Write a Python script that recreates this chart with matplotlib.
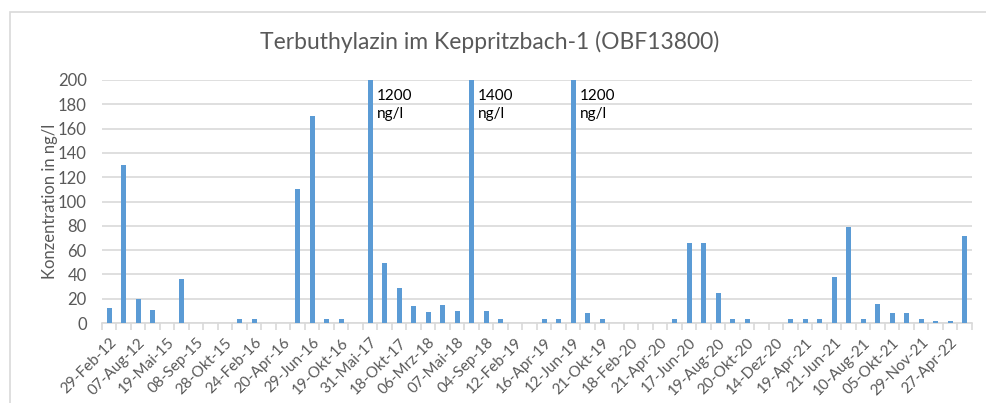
import numpy as np
import matplotlib
matplotlib.use("Agg")
import matplotlib.pyplot as plt
from matplotlib.patches import Rectangle

plt.rcParams['font.family'] = ['Lato', 'DejaVu Sans']

# one value per sampling date (60 samples), labels shown for every second one
values = [12, 130, 20, 11, 0, 36, 0, 0, 0, 3,
          3, 0, 0, 110, 170, 3, 3, 0, 1200, 49,
          29, 14, 9, 15, 10, 1400, 10, 3, 0, 0,
          3, 3, 1200, 8, 3, 0, 0, 0, 0, 3,
          66, 66, 25, 3, 3, 0, 0, 3, 3, 3,
          38, 79, 3, 16, 8, 8, 3, 2, 2, 72]

labels = ["29-Feb-12", "07-Aug-12", "19-Mai-15", "08-Sep-15", "28-Okt-15",
          "24-Feb-16", "20-Apr-16", "29-Jun-16", "19-Okt-16", "31-Mai-17",
          "18-Okt-17", "06-Mrz-18", "07-Mai-18", "04-Sep-18", "12-Feb-19",
          "16-Apr-19", "12-Jun-19", "21-Okt-19", "18-Feb-20", "21-Apr-20",
          "17-Jun-20", "19-Aug-20", "20-Okt-20", "14-Dez-20", "19-Apr-21",
          "21-Jun-21", "10-Aug-21", "05-Okt-21", "29-Nov-21", "27-Apr-22"]

ymax = 200
grey = "#595959"

fig = plt.figure(figsize=(9.87, 4.03), dpi=100)
ax = fig.add_axes([102/987, 1 - 323/403, 870/987, 243/403])

x = np.arange(len(values))
ax.bar(x, values, width=0.32, color="#5b9bd5", zorder=3)

# annotate the off-scale peaks
for i, v in enumerate(values):
    if v > ymax:
        ax.text(i + 0.45, ymax - 7, f"{v}\nng/l", ha="left", va="top",
                fontsize=11, color="black", linespacing=1.4, zorder=4)

ax.set_xlim(-0.5, len(values) - 0.5)
ax.set_ylim(0, ymax)
ax.set_yticks(np.arange(0, ymax + 1, 20))
ax.yaxis.grid(True, color="#d9d9d9", linewidth=1.2, zorder=0)
ax.set_axisbelow(True)

ax.set_xticks(x[::2])
ax.set_xticklabels(labels, rotation=45, ha="right", rotation_mode="anchor")
ax.set_xticks(np.arange(-0.5, len(values), 1), minor=True)
ax.tick_params(axis="x", which="major", length=0, pad=9, labelsize=11, labelcolor=grey)
ax.tick_params(axis="x", which="minor", length=5, color="#d9d9d9", width=1.2)
ax.tick_params(axis="y", length=0, labelsize=12, labelcolor=grey, pad=11)

for s in ["top", "right", "left"]:
    ax.spines[s].set_visible(False)
ax.spines["bottom"].set_color("#d9d9d9")
ax.spines["bottom"].set_linewidth(1.2)

ax.set_ylabel("Konzentration in ng/l", fontsize=12, color=grey, labelpad=0)
fig.text(490/987, 1 - 42/403, "Terbuthylazin im Keppritzbach-1 (OBF13800)",
         ha="center", va="center", fontsize=16.5, color=grey)

# chart area border
fig.patches.append(Rectangle((10/987, -0.1), 1.1, 1 - 12/403 + 0.1,
                             transform=fig.transFigure, fill=False,
                             edgecolor="#d9d9d9", linewidth=1.2))

fig.savefig("out.png", dpi=100)
